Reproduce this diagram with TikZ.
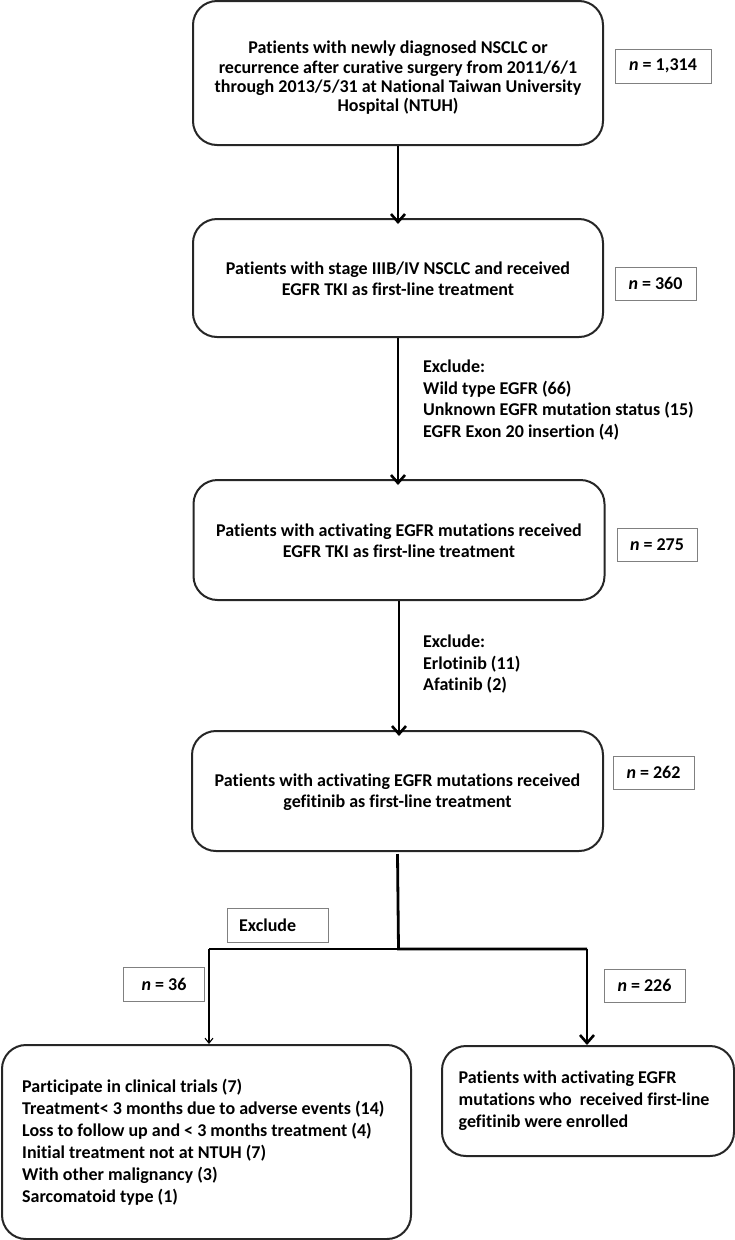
\documentclass[tikz,border=0pt]{standalone}
\usepackage{fontspec}
\setmainfont[Ligatures=NoCommon]{Carlito}
\usetikzlibrary{arrows.meta}
\begin{document}
\begin{tikzpicture}[x=1pt,y=-1pt,
  box/.style={draw=black!85, line width=2pt, rounded corners=24pt, inner sep=0pt},
  btext/.style={inner sep=0pt, align=center, font=\fontsize{18}{21.3}\selectfont\bfseries},
  nbox/.style={draw=black!50, line width=0.9pt, inner sep=0pt, align=center,
    font=\fontsize{18}{20}\selectfont\bfseries},
  note/.style={inner sep=0pt, align=left, anchor=west, font=\fontsize{18}{21.5}\selectfont\bfseries},
  arr/.style={line width=2.8pt, -{Straight Barb[length=8pt,width=14pt,line width=2.6pt]}},
  thinarr/.style={line width=1.1pt, -{Straight Barb[length=5pt,width=8pt,line width=1.1pt]}},
  thickline/.style={line width=2.8pt}]
\useasboundingbox (0,0) rectangle (735,1240);

% main boxes
\node[box, minimum width=410pt, minimum height=144pt] (b1) at (398,73) {};
\node[btext, font=\fontsize{18}{19.3}\selectfont\bfseries] (t1) at (398,78)
  {Patients with newly diagnosed NSCLC or\\recurrence after curative surgery from 2011/6/1\\through 2013/5/31 at National Taiwan University\\Hospital (NTUH)};
\node[box, minimum width=410pt, minimum height=118pt] (b2) at (398,278) {};
\node[btext] (t2) at (398,279) {Patients with stage IIIB/IV NSCLC and received\\EGFR TKI as first-line treatment};
\node[box, minimum width=411pt, minimum height=120pt] (b3) at (399,540) {};
\node[btext] (t3) at (399,541) {Patients with activating EGFR mutations received\\EGFR TKI as first-line treatment};
\node[box, minimum width=411pt, minimum height=120pt] (b4) at (397.5,791) {};
\node[btext] (t4) at (397.5,792) {Patients with activating EGFR mutations received\\gefitinib as first-line treatment};

% count boxes
\node[nbox, minimum width=96pt, minimum height=34pt] (n1) at (663,66) {\textit{n} = 1,314};
\node[nbox, minimum width=81pt, minimum height=33pt] (n2) at (655.5,283.5) {\textit{n} = 360};
\node[nbox, minimum width=80pt, minimum height=33pt] (n3) at (657,544.5) {\textit{n} = 275};
\node[nbox, minimum width=81pt, minimum height=33pt] (n4) at (653.5,772.5) {\textit{n} = 262};
\node[nbox, minimum width=81pt, minimum height=34pt] (n36) at (164,984) {\textit{n} = 36};
\node[nbox, minimum width=81pt, minimum height=33pt] (n226) at (644.5,985.5) {\textit{n} = 226};
\node[nbox, minimum width=101pt, minimum height=34pt] (ex) at (277.5,925) {};
\node[note] (ext) at (239,925) {Exclude};

% exclusion notes
\node[note] (e1) at (423,400) {Exclude:\\Wild type EGFR (66)\\Unknown EGFR mutation status (15)\\EGFR Exon 20 insertion (4)};
\node[note] (e2) at (423,664.5) {Exclude:\\Erlotinib (11)\\Afatinib (2)};

% bottom boxes
\node[box, minimum width=409pt, minimum height=194pt] (lb) at (206.5,1142) {};
\node[note, font=\fontsize{18}{21.9}\selectfont\bfseries] (lt) at (22,1142)
  {Participate in clinical trials (7)\\Treatment< 3 months due to adverse events (14)\\Loss to follow up and < 3 months treatment (4)\\Initial treatment not at NTUH (7)\\With other malignancy (3)\\Sarcomatoid type (1)};
\node[box, minimum width=292pt, minimum height=110pt] (rb) at (588,1101) {};
\node[note, font=\fontsize{18}{21.9}\selectfont\bfseries] (rt) at (458.5,1101)
  {Patients with activating EGFR\\mutations who\ \ received first-line\\gefitinib were enrolled};

% connectors
\draw[arr] (b1.south) -- ([yshift=-6pt]b1.south |- b2.north);
\draw[arr] (b2.south) -- ([yshift=-6pt]b2.south |- b3.north);
\draw[arr] (b3.south) -- ([yshift=-6pt]b3.south |- b4.north);

\coordinate (j) at (398.5,949);
\coordinate (jl) at (209,949);
\coordinate (jr) at (587,949);
\draw[line width=1.1pt] (j) -- (jl);
\draw[thinarr] (jl) -- (jl |- lb.north);
\draw[thickline] ([yshift=-2pt]b4.south) -- (j) -- (jr);
\draw[arr] (jr) -- (jr |- rb.north);
\end{tikzpicture}
\end{document}
